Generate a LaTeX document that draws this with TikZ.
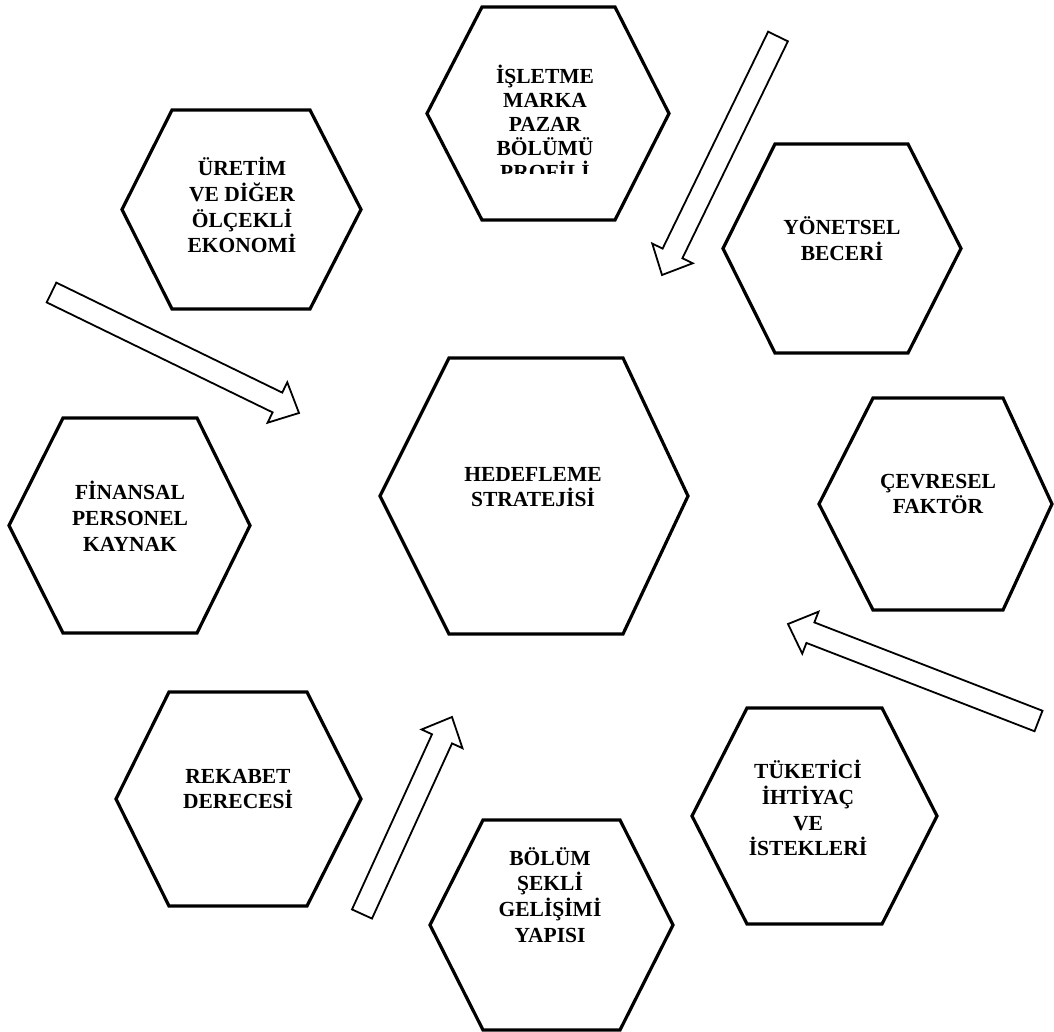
\documentclass[tikz,border=0pt]{standalone}
\usepackage{fontspec}
\setmainfont{Liberation Serif}
\usetikzlibrary{calc}
\tikzset{
  hexline/.style={line width=3.2pt, line join=miter},
  hextext/.style={font=\fontsize{21.5}{25.8}\selectfont\bfseries, align=center, inner sep=0pt},
  blockarrow/.style={line width=1.8pt, line join=miter, fill=white},
}
% L, R, T, B, TL, TR
\newcommand\hexoutline[6]{%
  \draw[hexline] (#1,{(#3+#4)/2}) -- (#5,#3) -- (#6,#3) -- (#2,{(#3+#4)/2}) -- (#6,#4) -- (#5,#4) -- cycle;}
% tail coordinate, tip coordinate
\newcommand\hollowarrow[2]{%
  \coordinate (#1base) at ($(#2)!24pt!(#1)$);
  \draw[blockarrow] ($(#1)!11pt!90:(#2)$) -- ($(#1base)!11pt!-90:(#1)$) -- ($(#1base)!22.5pt!-90:(#1)$)
    -- (#2) -- ($(#1base)!22.5pt!90:(#1)$) -- ($(#1base)!11pt!90:(#1)$) -- ($(#1)!11pt!-90:(#2)$) -- cycle;}
\begin{document}
\begin{tikzpicture}[x=1pt,y=-1pt]
\useasboundingbox (0,0) rectangle (1054,1032);

% hexagons
\hexoutline{427}{669}{7}{220}{482}{615}
\hexoutline{122}{361}{110}{309}{172}{310}
\hexoutline{723}{961}{144}{353}{775}{908}
\hexoutline{9}{250}{418}{633}{63}{197}
\hexoutline{380}{688}{358}{634}{449}{623}
\hexoutline{819}{1052}{398}{610}{873}{1003}
\hexoutline{116}{361}{692}{906}{169}{307}
\hexoutline{692}{937}{708}{924}{747}{882}
\hexoutline{430}{673}{820}{1030}{483}{620}

% texts
\begin{scope}
  \clip (427,0) rectangle (669,174);
  \node[hextext, font=\fontsize{21.5}{24}\selectfont\bfseries] (isletme) at (545,122) {İŞLETME\\MARKA\\PAZAR\\BÖLÜMÜ\\PROFİLİ};
\end{scope}
\node[hextext] (uretim) at (242,205) {ÜRETİM\\VE DİĞER\\ÖLÇEKLİ\\EKONOMİ};
\node[hextext] (yonetsel) at (842,239) {YÖNETSEL\\BECERİ};
\node[hextext] (finansal) at (130,516) {FİNANSAL\\PERSONEL\\KAYNAK};
\node[hextext] (hedef) at (533,487) {HEDEFLEME\\STRATEJİSİ};
\node[hextext] (cevresel) at (938,494) {ÇEVRESEL\\FAKTÖR};
\node[hextext] (rekabet) at (238,789) {REKABET\\DERECESİ};
\node[hextext] (tuketici) at (808,808) {TÜKETİCİ\\İHTİYAÇ\\VE\\İSTEKLERİ};
\node[hextext] (bolum) at (550,895) {BÖLÜM\\ŞEKLİ\\GELİŞİMİ\\YAPISI};

% arrows
\coordinate (a1t) at (778,36.5);  \coordinate (a1h) at (662,275);
\coordinate (a2t) at (51.5,292.5); \coordinate (a2h) at (299,413);
\coordinate (a3t) at (1038.5,721); \coordinate (a3h) at (788,624);
\coordinate (a4t) at (362,914);   \coordinate (a4h) at (452,717);
\hollowarrow{a1t}{a1h}
\hollowarrow{a2t}{a2h}
\hollowarrow{a3t}{a3h}
\hollowarrow{a4t}{a4h}
\end{tikzpicture}
\end{document}
